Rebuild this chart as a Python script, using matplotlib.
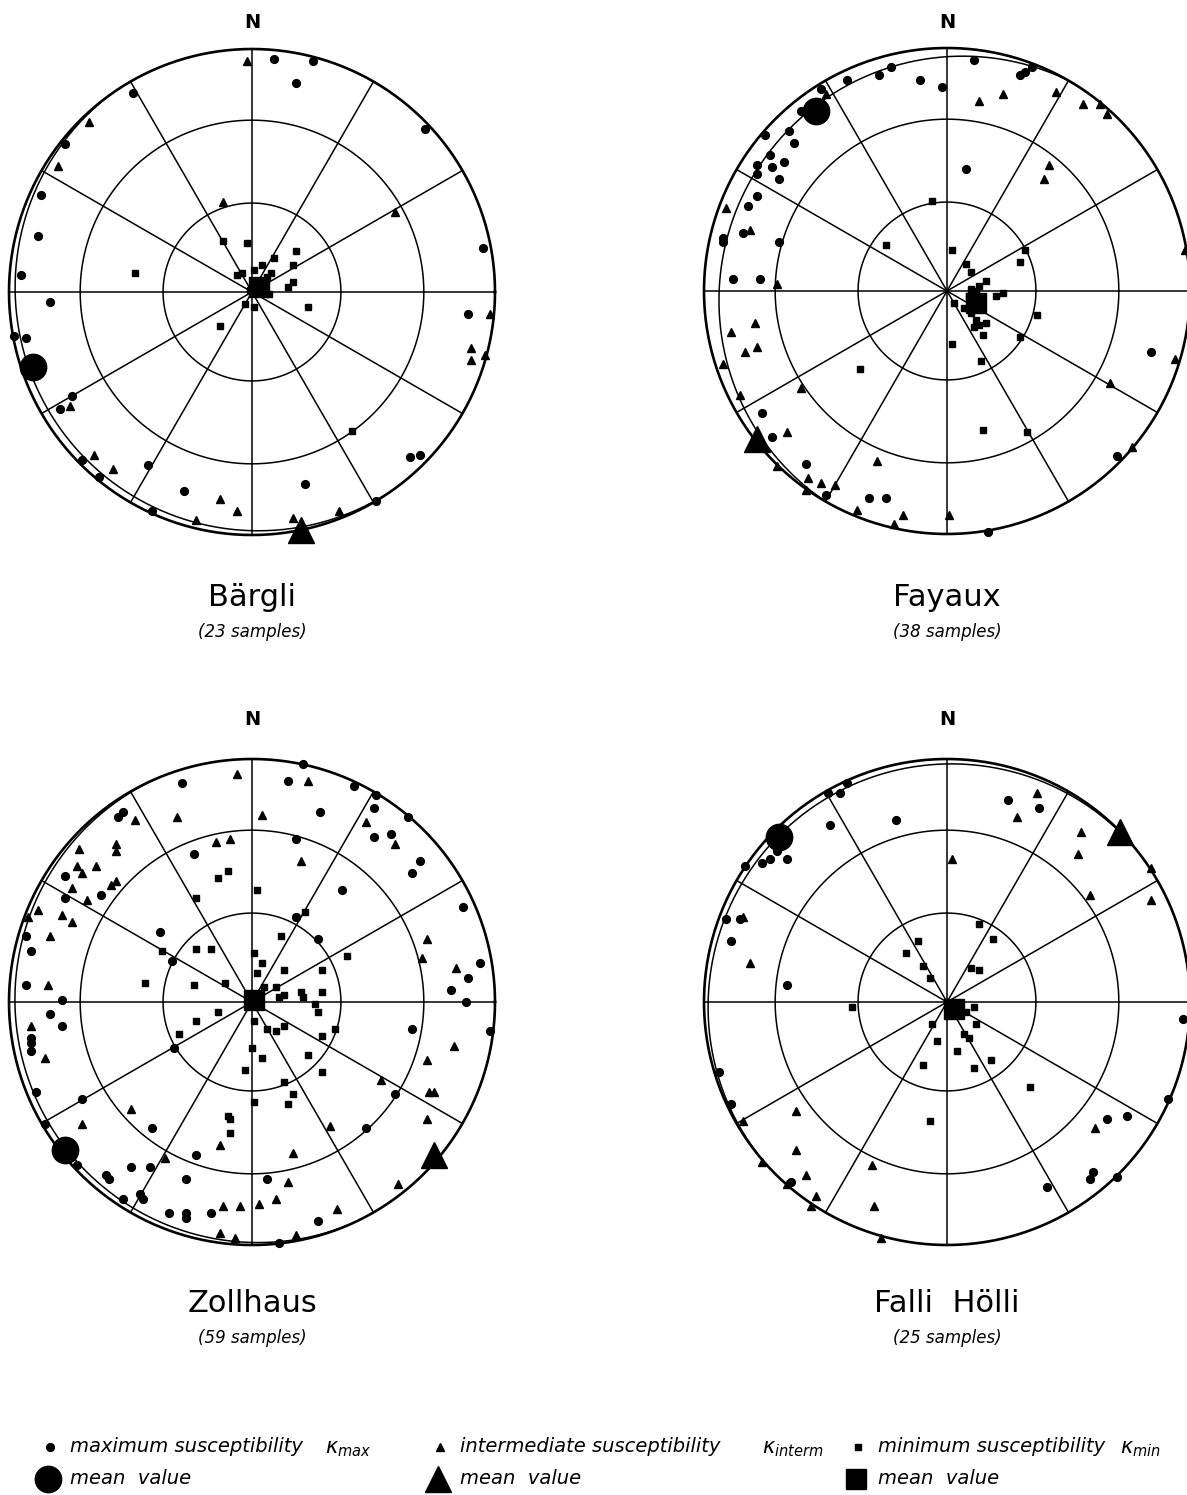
"""
Equal-area lower-hemisphere plots of AMS principal axes for four sites.
Points are given as (east, north) in units of the net radius.
"""
import numpy as np
import matplotlib
matplotlib.use("Agg")
import matplotlib.pyplot as plt

W, H = 1187, 1495
R = 243.0   # net radius in pixels

# ---- site info ----
sites = ["Bärgli", "Fayaux", "Zollhaus", "Falli Hölli"]
n_samples = [23, 38, 59, 25]
centers = [(252, 292), (947, 291), (252, 1002), (947, 1002)]   # net centres, px
# mean plane (dip direction, dip) drawn as great circle near the primitive
planes = [(235, 3.5), (300, 8.0), (247, 3.0), (320, 3.0)]

# ---- Bärgli ----
bargli_kmax = [(0.09, 0.96), (0.25, 0.95), (0.18, 0.86), (-0.49, 0.82), (-0.77, 0.61),
               (-0.87, 0.40), (-0.88, 0.23), (-0.95, 0.07), (0.71, 0.67), (0.95, 0.18),
               (-0.83, -0.04), (-0.93, -0.19), (-0.74, -0.43), (-0.79, -0.48), (-0.43, -0.71),
               (-0.63, -0.76), (-0.70, -0.69), (-0.28, -0.82), (-0.41, -0.90), (0.22, -0.79),
               (0.65, -0.68), (0.69, -0.67), (0.89, -0.09), (-0.98, -0.18), (0.51, -0.86)]
bargli_kint = [(-0.02, 0.95), (-0.67, 0.70), (-0.80, 0.52), (-0.12, 0.37), (0.59, 0.33),
               (0.98, -0.09), (0.90, -0.23), (0.90, -0.28), (0.96, -0.26), (-0.75, -0.47),
               (-0.65, -0.67), (-0.57, -0.73), (-0.13, -0.85), (-0.06, -0.90), (-0.23, -0.94),
               (0.17, -0.93), (0.36, -0.90)]
bargli_kmin = [(-0.12, 0.21), (-0.02, 0.20), (-0.48, 0.08), (0.18, 0.17), (0.17, 0.11),
               (0.09, 0.14), (0.04, 0.11), (0.01, 0.09), (-0.06, 0.07), (-0.04, 0.08),
               (0.17, 0.04), (0.15, 0.02), (0.06, 0.06), (0.08, 0.08), (0.23, -0.06),
               (-0.13, -0.14), (-0.03, -0.05), (0.01, -0.06), (0.07, -0.01), (0.41, -0.57),
               (0.02, 0.03), (0.05, 0.00), (-0.01, 0.01)]
bargli_mean = [(-0.90, -0.31), (0.20, -0.98), (0.03, 0.02)]   # kmax, kint, kmin

# ---- Fayaux ----
fayaux_kmax = [(0.11, 0.95), (-0.23, 0.92), (-0.28, 0.89), (-0.41, 0.87), (-0.11, 0.87),
               (-0.02, 0.84), (-0.52, 0.83), (-0.60, 0.74), (-0.75, 0.64), (-0.65, 0.66),
               (-0.63, 0.61), (-0.73, 0.56), (-0.78, 0.52), (-0.67, 0.53), (-0.72, 0.51),
               (-0.78, 0.48), (-0.69, 0.46), (-0.78, 0.39), (-0.82, 0.35), (-0.84, 0.24),
               (-0.92, 0.22), (-0.92, 0.20), (-0.69, 0.20), (-0.88, 0.05), (-0.77, 0.05),
               (0.08, 0.50), (0.30, 0.89), (0.32, 0.90), (0.35, 0.92), (0.84, -0.25),
               (0.70, -0.68), (-0.76, -0.50), (-0.72, -0.60), (-0.58, -0.71), (-0.50, -0.84),
               (-0.32, -0.85), (-0.25, -0.85), (0.17, -0.99)]
fayaux_kint = [(0.13, 0.78), (0.23, 0.81), (0.45, 0.82), (0.56, 0.77), (0.63, 0.77),
               (0.66, 0.73), (0.42, 0.52), (0.40, 0.46), (-0.91, 0.34), (-0.81, 0.25),
               (-0.70, 0.03), (0.98, 0.17), (-0.50, 0.81), (-0.79, -0.13), (-0.89, -0.17),
               (-0.83, -0.25), (-0.78, -0.23), (-0.92, -0.30), (-0.85, -0.43), (-0.60, -0.40),
               (-0.66, -0.58), (-0.70, -0.72), (-0.57, -0.77), (-0.52, -0.79), (-0.46, -0.80),
               (-0.58, -0.82), (-0.29, -0.70), (-0.37, -0.90), (-0.18, -0.92), (-0.22, -0.96),
               (0.01, -0.92), (0.67, -0.38), (0.76, -0.64), (0.94, -0.28)]
fayaux_kmin = [(-0.06, 0.37), (-0.25, 0.19), (0.02, 0.17), (0.30, 0.12), (0.32, 0.17),
               (0.08, 0.11), (0.10, 0.08), (0.16, 0.04), (0.10, 0.01), (0.13, 0.02),
               (0.20, -0.02), (0.23, -0.01), (0.37, -0.10), (0.03, -0.05), (0.07, -0.07),
               (0.12, -0.12), (0.16, -0.13), (0.13, -0.14), (0.11, -0.15), (0.15, -0.18),
               (0.30, -0.19), (0.02, -0.22), (0.14, -0.29), (-0.36, -0.32), (0.15, -0.57),
               (0.33, -0.58), (0.12, 0.00), (0.09, -0.02), (0.14, -0.05), (0.10, -0.09)]
fayaux_mean = [(-0.54, 0.74), (-0.78, -0.61), (0.12, -0.05)]

# ---- Zollhaus ----
zollhaus_kmax = [(0.21, 0.98), (-0.29, 0.90), (0.15, 0.91), (0.42, 0.89), (0.51, 0.85),
                 (0.50, 0.80), (0.28, 0.78), (0.64, 0.76), (0.50, 0.68), (0.57, 0.69),
                 (0.69, 0.58), (0.66, 0.53), (0.18, 0.67), (-0.24, 0.61), (0.37, 0.46),
                 (0.87, 0.39), (0.94, 0.16), (0.89, 0.10), (0.82, 0.05), (-0.55, 0.76),
                 (-0.53, 0.78), (-0.77, 0.52), (-0.62, 0.44), (-0.77, 0.43), (-0.93, 0.27),
                 (-0.91, 0.21), (-0.93, 0.07), (-0.78, 0.01), (-0.38, 0.29), (-0.33, 0.17),
                 (0.27, 0.26), (0.18, 0.35), (-0.83, -0.05), (-0.78, -0.10), (-0.91, -0.15),
                 (-0.91, -0.17), (-0.91, -0.20), (-0.89, -0.37), (-0.70, -0.40), (-0.85, -0.50),
                 (-0.72, -0.67), (-0.41, -0.52), (-0.23, -0.63), (-0.50, -0.68), (-0.42, -0.68),
                 (-0.60, -0.71), (-0.59, -0.73), (-0.27, -0.73), (-0.46, -0.79), (-0.45, -0.81),
                 (-0.53, -0.81), (-0.34, -0.87), (-0.27, -0.89), (-0.27, -0.87), (-0.17, -0.87),
                 (0.06, -0.73), (0.27, -0.90), (0.11, -0.99), (0.66, -0.11), (0.88, 0.00),
                 (0.98, -0.12), (0.59, -0.38), (0.47, -0.52), (-0.32, -0.19)]
zollhaus_kint = [(-0.06, 0.94), (0.23, 0.91), (-0.31, 0.76), (0.04, 0.77), (-0.48, 0.75),
                 (0.47, 0.74), (0.59, 0.65), (-0.15, 0.66), (-0.09, 0.67), (-0.71, 0.63),
                 (-0.56, 0.65), (-0.56, 0.62), (-0.64, 0.56), (-0.72, 0.56), (-0.70, 0.53),
                 (-0.56, 0.50), (-0.58, 0.48), (-0.74, 0.47), (-0.68, 0.42), (0.20, 0.58),
                 (-0.88, 0.38), (-0.92, 0.35), (-0.78, 0.36), (-0.74, 0.33), (-0.83, 0.27),
                 (-0.84, 0.07), (0.72, 0.26), (0.70, 0.18), (0.84, 0.14), (-0.91, -0.10),
                 (-0.85, -0.23), (-0.50, -0.44), (-0.70, -0.50), (-0.13, -0.59), (0.17, -0.62),
                 (0.15, -0.74), (0.10, -0.81), (0.03, -0.83), (-0.05, -0.84), (-0.12, -0.84),
                 (-0.13, -0.95), (-0.07, -0.97), (0.18, -0.96), (0.35, -0.85), (0.60, -0.75),
                 (0.32, -0.51), (0.53, -0.32), (0.72, -0.24), (0.83, -0.18), (0.73, -0.37),
                 (0.75, -0.37), (0.72, -0.48), (-0.36, -0.64)]
zollhaus_kmin = [(-0.10, 0.54), (-0.14, 0.51), (0.02, 0.46), (-0.23, 0.43), (0.22, 0.37),
                 (0.18, 0.35), (0.12, 0.27), (-0.23, 0.22), (-0.17, 0.22), (-0.37, 0.21),
                 (0.01, 0.20), (0.04, 0.16), (0.02, 0.12), (0.13, 0.13), (0.29, 0.13),
                 (0.39, 0.19), (-0.44, 0.08), (-0.24, 0.07), (-0.11, 0.08), (0.05, 0.06),
                 (0.10, 0.06), (0.13, 0.03), (0.20, 0.04), (0.21, 0.02), (0.29, 0.04),
                 (-0.14, -0.04), (-0.23, -0.08), (-0.30, -0.13), (0.01, -0.08), (0.06, -0.11),
                 (0.10, -0.12), (0.13, -0.10), (0.26, -0.01), (0.27, -0.04), (0.34, -0.11),
                 (0.29, -0.14), (0.23, -0.22), (0.29, -0.29), (0.04, -0.23), (-0.03, -0.28),
                 (0.13, -0.33), (0.17, -0.38), (0.15, -0.42), (0.01, -0.41), (-0.09, -0.54),
                 (-0.10, -0.47), (-0.09, -0.48), (0.11, 0.02), (0.00, -0.19)]
zollhaus_mean = [(-0.77, -0.61), (0.75, -0.63), (0.01, 0.01)]

# ---- Falli Hölli ----
falli_kmax = [(-0.49, 0.86), (-0.44, 0.86), (-0.41, 0.90), (-0.48, 0.73), (-0.21, 0.75),
              (0.25, 0.83), (0.38, 0.80), (-0.70, 0.62), (-0.73, 0.59), (-0.76, 0.57),
              (-0.66, 0.59), (-0.83, 0.56), (-0.91, 0.34), (-0.85, 0.34), (-0.89, 0.25),
              (-0.66, 0.07), (0.97, -0.07), (0.91, -0.40), (0.66, -0.48), (0.74, -0.47),
              (0.60, -0.70), (0.59, -0.73), (0.70, -0.72), (0.41, -0.76), (-0.89, -0.42),
              (-0.64, -0.74), (-0.94, -0.29)]
falli_kint = [(0.37, 0.86), (0.29, 0.76), (0.55, 0.70), (0.54, 0.61), (0.02, 0.59),
              (0.84, 0.55), (0.59, 0.44), (0.84, 0.42), (-0.84, 0.35), (-0.81, 0.16),
              (-0.62, -0.45), (-0.62, -0.61), (-0.58, -0.71), (-0.54, -0.80), (-0.56, -0.84),
              (-0.66, -0.75), (-0.76, -0.66), (-0.84, -0.49), (-0.31, -0.67), (-0.30, -0.84),
              (-0.27, -0.97), (0.61, -0.52)]
falli_kmin = [(0.13, 0.32), (0.19, 0.26), (-0.12, 0.25), (-0.17, 0.20), (-0.10, 0.15),
              (-0.07, 0.10), (0.10, 0.14), (0.13, 0.13), (-0.39, -0.02), (0.11, -0.02),
              (0.08, -0.04), (0.12, -0.09), (-0.06, -0.09), (0.07, -0.13), (0.09, -0.15),
              (-0.04, -0.16), (0.04, -0.20), (0.18, -0.24), (-0.10, -0.26), (0.11, -0.27),
              (0.34, -0.35), (-0.07, -0.49)]
falli_mean = [(-0.69, 0.68), (0.71, 0.70), (0.03, -0.03)]

site_kmax = [bargli_kmax, fayaux_kmax, zollhaus_kmax, falli_kmax]
site_kint = [bargli_kint, fayaux_kint, zollhaus_kint, falli_kint]
site_kmin = [bargli_kmin, fayaux_kmin, zollhaus_kmin, falli_kmin]
site_mean = [bargli_mean, fayaux_mean, zollhaus_mean, falli_mean]

TXT = dict(family="DejaVu Sans", color="black")
plt.rcParams["mathtext.fontset"] = "dejavusans"


def ea_radius(plunge_deg):
    """Schmidt (equal-area) distance from centre for a given plunge."""
    return np.sqrt(2) * np.sin(np.radians(90 - plunge_deg) / 2)


def plane_arc(dipdir, dip):
    a = np.radians(np.linspace(-90, 90, 361))
    plunge = np.degrees(np.arctan(np.tan(np.radians(dip)) * np.cos(a)))
    trend = np.radians(dipdir) + a
    r = ea_radius(plunge)
    return r * np.sin(trend), r * np.cos(trend)


def draw_net(ax):
    t = np.linspace(0, 2 * np.pi, 721)
    ax.plot(np.cos(t), np.sin(t), color="black", lw=1.9, zorder=2)
    for p in (30, 60):
        r = ea_radius(p)
        ax.plot(r * np.cos(t), r * np.sin(t), color="black", lw=1.1, zorder=2)
    for az in range(0, 180, 30):
        a = np.radians(az)
        ax.plot([-np.sin(a), np.sin(a)], [-np.cos(a), np.cos(a)],
                color="black", lw=1.1, zorder=2)


fig = plt.figure(figsize=(W / 100, H / 100), dpi=100)

for i, (cx, cy) in enumerate(centers):
    ext = 1.1
    rect = [(cx - ext * R) / W, (H - cy - ext * R) / H, 2 * ext * R / W, 2 * ext * R / H]
    ax = fig.add_axes(rect)
    ax.set_xlim(-ext, ext)
    ax.set_ylim(-ext, ext)
    ax.axis("off")

    draw_net(ax)
    px, py = plane_arc(*planes[i])
    ax.plot(px, py, color="black", lw=1.1, zorder=2)

    kmax = np.array(site_kmax[i])
    kint = np.array(site_kint[i])
    kmin = np.array(site_kmin[i])
    ax.plot(kmax[:, 0], kmax[:, 1], "o", color="black", ms=5.6, zorder=4)
    ax.plot(kint[:, 0], kint[:, 1], "^", color="black", ms=6.0, zorder=4)
    ax.plot(kmin[:, 0], kmin[:, 1], "s", color="black", ms=4.6, zorder=4)

    m = site_mean[i]
    ax.plot(*m[0], "o", color="black", ms=19, zorder=5)
    ax.plot(*m[1], "^", color="black", ms=19, zorder=5)
    ax.plot(*m[2], "s", color="black", ms=14, zorder=5)

    top = cy < 600
    y_n = (cy - (22 if top else 720)) / R
    y_t = (cy - (598 if top else 1303)) / R
    y_s = (cy - (632 if top else 1338)) / R
    ax.text(0, y_n, "N", ha="center", va="center", fontsize=14,
            fontweight="bold", clip_on=False, **TXT)
    ax.text(0, y_t, sites[i].replace(" ", "  "), ha="center", va="center",
            fontsize=22, clip_on=False, **TXT)
    ax.text(0, y_s, f"({n_samples[i]} samples)", ha="center", va="center",
            fontsize=12, style="italic", clip_on=False, **TXT)

# ---- legend (pixel coordinates) ----
lg = fig.add_axes([0, 0, 1, 1], zorder=-1)
lg.set_xlim(0, W)
lg.set_ylim(H, 0)
lg.axis("off")

legend_cols = [
    ("o", "maximum susceptibility", r"$\kappa_{max}$", 50, 19),
    ("^", "intermediate susceptibility", r"$\kappa_{interm}$", 440, 19),
    ("s", "minimum susceptibility", r"$\kappa_{min}$", 858, 14),
]
small_ms = {"o": 5.6, "^": 6.0, "s": 4.6}
label_end = [305, 742, 1100]
for (mk, label, kappa, x0, big), xe in zip(legend_cols, label_end):
    lg.plot(x0, 1447, mk, color="black", ms=small_ms[mk])
    lg.text(x0 + 20, 1447, label, ha="left", va="center", fontsize=14,
            style="italic", **TXT)
    lg.text(xe + 20, 1449, kappa, ha="left", va="center", fontsize=15, **TXT)
    lg.plot(x0 - 2, 1479, mk, color="black", ms=big)
    lg.text(x0 + 20, 1479, "mean  value", ha="left", va="center", fontsize=14,
            style="italic", **TXT)

fig.savefig("out.png", dpi=100)
